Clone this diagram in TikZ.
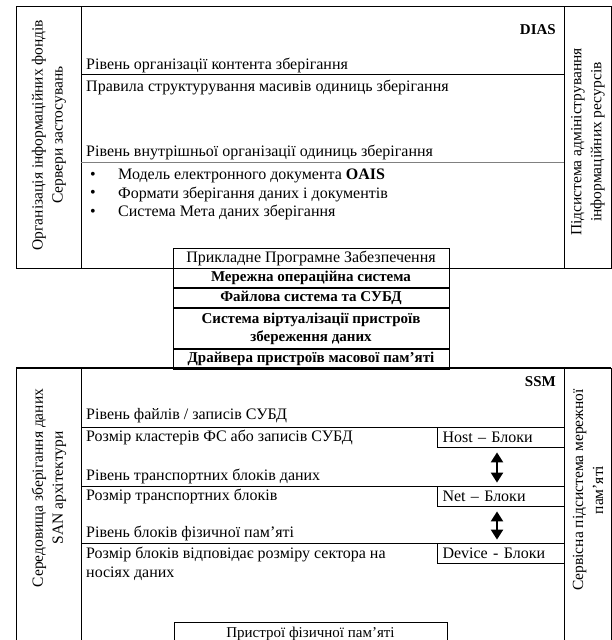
\documentclass[tikz,border=0pt]{standalone}
\usepackage{fontspec}
\setmainfont{Liberation Serif}
\usetikzlibrary{
  positioning,
  arrows.meta
}

\begin{document}
\begin{tikzpicture}[x=1pt,y=-1pt,font=\fontsize{16}{18}\selectfont,
  txt/.style={anchor=west,inner sep=0pt},
  tagtxt/.style={anchor=east,inner sep=0pt,font=\fontsize{15}{17}\selectfont\bfseries},
  stackbox/.style={draw,line width=0.8pt,minimum width=276pt,inner sep=0pt,align=center,
    font=\fontsize{15}{17}\selectfont\bfseries},
  blockbox/.style={draw,line width=0.8pt,text width=116pt,inner xsep=5.5pt,inner ysep=0pt,
    minimum height=20pt,align=left},
  sidetxt/.style={rotate=90,align=center,inner sep=0pt,font=\fontsize{15.5}{20}\selectfont},
  level/.style={line width=1pt},
  updown/.style={{Triangle[width=12pt,length=10pt]}-{Triangle[width=12pt,length=10pt]},line width=2.2pt}]
  \useasboundingbox (0,0) rectangle (612,640);
  \clip (0,0) rectangle (612,640);
  % 上部ブロック DIAS
  \draw[line width=0.6pt] (16,6) rectangle (611,268);
  \draw[line width=0.8pt] (81,6)--(81,268);
  \draw[line width=0.8pt] (564,6)--(564,268);
  \node[tagtxt] (dias) at (556,30) {DIAS};
  \node[sidetxt] (orgfonds) at (49,135) {Організація інформаційних фондів\\Сервери застосувань};
  \node[sidetxt] (adminres) at (588,142) {Підсистема адміністрування\\інформаційних ресурсів};
  \node[txt] (lvlcontent) at (86,65) {Рівень організації контента зберігання};
  \draw[level] (81,74)--(564,74);
  \node[txt] (rules) at (86,87) {Правила структурування масивів одиниць зберігання};
  \node[txt] (lvlinner) at (86,152) {Рівень внутрішньої організації одиниць зберігання};
  \draw[gray,line width=0.5pt] (81,162)--(564,162);
  \foreach \t [count=\i] in {{Модель електронного документа \textbf{OAIS}},
      {Формати зберігання даних і документів},{Система Мета даних зберігання}}{
    \node[inner sep=0pt] (dot\i) at (93,157+18.5*\i) {\textbullet};
    \node[txt] (item\i) at (118,157+18.5*\i) {\t};
  }
  % 中間のスタック
  \node[stackbox,minimum height=20pt,font=\fontsize{16}{18}\selectfont] (appsw) at (311,258) {Прикладне Програмне Забезпечення};
  \node[stackbox,minimum height=19pt,below=0pt of appsw] (netos) {Мережна операційна система};
  \node[stackbox,minimum height=19pt,below=0pt of netos] (fsdb) {Файлова система та СУБД};
  \node[stackbox,minimum height=40pt,font=\fontsize{15}{18}\selectfont\bfseries,below=0pt of fsdb] (virt) {Система віртуалізації пристроїв\\збереження даних};
  \node[stackbox,minimum height=20pt,below=0pt of virt] (drivers) {Драйвера пристроїв масової пам’яті};
  % 下部ブロック SSM
  \draw[line width=1.4pt] (16,368)--(611,368);
  \draw[line width=0.8pt] (16,368)--(16,640);
  \draw[line width=0.8pt] (81,368)--(81,640);
  \draw[line width=0.8pt] (564,368)--(564,640);
  \draw[line width=0.8pt] (611,368)--(611,640);
  \node[tagtxt] (ssm) at (556,382) {SSM};
  \node[sidetxt] (sanenv) at (49,488) {Середовища зберігання даних\\SAN архітектури};
  \node[sidetxt] (netmem) at (588,490) {Сервісна підсистема мережної\\пам’яті};
  \node[txt] (lvlfiles) at (86,416) {Рівень файлів / записів СУБД};
  \draw[level] (81,427)--(564,427);
  \node[txt] (clusters) at (86,437) {Розмір кластерів ФС або записів СУБД};
  \node[blockbox] (host) at (500.5,437) {Host -- Блоки};
  \node[txt] (lvltrans) at (86,476) {Рівень транспортних блоків даних};
  \draw[level] (81,486)--(564,486);
  \node[txt] (transsize) at (86,496) {Розмір транспортних блоків};
  \node[blockbox] (net) at (500.5,496) {Net -- Блоки};
  \node[txt] (lvlphys) at (86,533) {Рівень блоків фізичної пам’яті};
  \draw[level] (81,543)--(564,543);
  \node[txt] (blocksize) at (86,554) {Розмір блоків відповідає розміру сектора на};
  \node[txt] (carriers) at (86,574) {носіях даних};
  \node[blockbox] (device) at (500.5,553) {Device - Блоки};
  \draw[updown,shorten <=5pt,shorten >=3pt] ([xshift=-3.5pt]host.south)--([xshift=-3.5pt]net.north);
  \draw[updown,shorten <=5pt,shorten >=3pt] ([xshift=-3.5pt]net.south)--([xshift=-3.5pt]device.north);
  \node[stackbox,minimum width=273pt,minimum height=24pt,font=\fontsize{15}{17}\selectfont] (physdev) at (310.5,634) {Пристрої фізичної пам’яті};
\end{tikzpicture}
\end{document}
